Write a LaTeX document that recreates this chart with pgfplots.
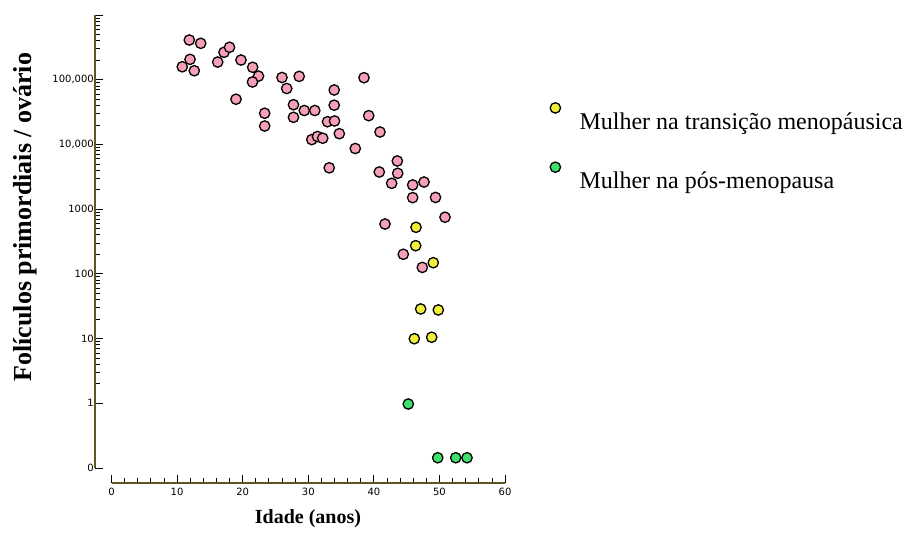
\documentclass[border=0pt]{standalone}
\usepackage{pgfplots}
\pgfplotsset{compat=1.18}
\usepackage{fontspec}
\setmainfont{Liberation Serif}
\newfontfamily\tickfont{DejaVu Sans}
\definecolor{axolive}{RGB}{95,85,35}
\definecolor{pinkf}{RGB}{245,160,182}
\definecolor{yelf}{RGB}{242,238,60}
\definecolor{grnf}{RGB}{60,225,105}
\pgfplotsset{mylegimg/.style={legend image code/.code={\draw[##1] plot coordinates {(0pt,14pt)};}}}
\begin{document}
\begin{tikzpicture}
\path[use as bounding box] (0,0) rectangle (904pt,541pt);
\begin{axis}[
  at={(111.5pt,73pt)}, anchor=south west,
  scale only axis, width=393.6pt, height=452.9pt,
  xmin=0, xmax=60, ymin=0.1, ymax=1000000, ymode=log,
  axis lines=left, axis line style={-, axolive, line width=1.4pt},
  axis x line shift=15pt, axis y line shift=16.5pt,
  xtick={0,10,20,30,40,50,60}, xticklabels={0,10,20,30,40,50,60},
  minor xtick={2,4,6,8,12,14,16,18,22,24,26,28,32,34,36,38,42,44,46,48,52,54,56,58},
  ytick={0.1,1,10,100,1000,10000,100000,1000000},
  yticklabels={0,1,10,100,1000,{10,000},{100,000},{}},
  minor ytick={2,3,4,5,6,7,8,9,20,30,40,50,60,70,80,90,200,300,400,500,600,700,800,900,2000,3000,4000,5000,6000,7000,8000,9000,20000,30000,40000,50000,60000,70000,80000,90000,200000,300000,400000,500000,600000,700000,800000,900000},
  tick align=inside,
  major tick length=8pt, minor tick length=5pt,
  every tick/.style={black, line width=0.9pt},
  tick label style={font=\tickfont\fontsize{10}{10}\selectfont},
  yticklabel style={inner sep=1pt},
  xticklabel style={yshift=-2pt},
  clip=false,
  legend style={at={(axis description cs:1.114,0.807)}, anchor=north west, draw=none, fill=none,
    inner sep=0pt, row sep=31pt, column sep=19pt, font=\fontsize{24}{24}\selectfont,
    nodes={inner sep=0pt}},
  legend cell align=left,
]
\addplot[only marks, mark=*, mark size=5.2pt, mark options={fill=pinkf, draw=black, line width=1.3pt}, forget plot] coordinates {
(11.86,412000) (13.6,366000) (11.97,207000) (10.79,159000) (12.62,138000)
(17.15,266000) (17.99,318000) (16.19,188000) (19.74,202000) (21.52,156000)
(22.41,114000) (21.49,92500) (18.98,50100) (25.99,108600) (28.61,113000)
(26.71,73400) (33.95,69600) (27.74,41200) (29.39,33500) (30.99,33500)
(27.74,26300) (23.35,30400) (23.35,19300) (33.95,40500) (32.93,22500)
(34.0,23100) (34.73,14700) (30.53,11900) (31.40,13300) (32.2,12500)
(37.16,8670) (33.19,4360) (38.49,107700) (39.21,27900) (40.93,15600)
(43.57,5560) (40.82,3760) (43.63,3590) (42.71,2510) (45.91,2370)
(47.64,2630) (45.91,1510) (49.39,1520) (50.84,752) (41.69,590)
(44.48,201) (47.38,126)
};
\addplot[only marks, mark=*, mark size=5.2pt, mark options={fill=yelf, draw=black, line width=1.3pt}, mylegimg] coordinates {
(46.42,525) (46.37,273) (49.05,149) (47.13,28.7) (49.82,27.7) (46.16,9.96) (48.81,10.5)
};
\addlegendentry{Mulher na transição menopáusica}
\addplot[only marks, mark=*, mark size=5.2pt, mark options={fill=grnf, draw=black, line width=1.3pt}, mylegimg] coordinates {
(45.24,0.975) (49.73,0.144) (52.47,0.144) (54.19,0.144)
};
\addlegendentry{Mulher na pós-menopausa}
\end{axis}
\node[rotate=90, anchor=base west, font=\bfseries\fontsize{26}{26}\selectfont] at (31.7pt,156pt) {Folículos primordiais / ovário};
\node[anchor=base, font=\bfseries\fontsize{20}{20}\selectfont] at (308pt,18pt) {Idade (anos)};
\end{tikzpicture}
\end{document}
